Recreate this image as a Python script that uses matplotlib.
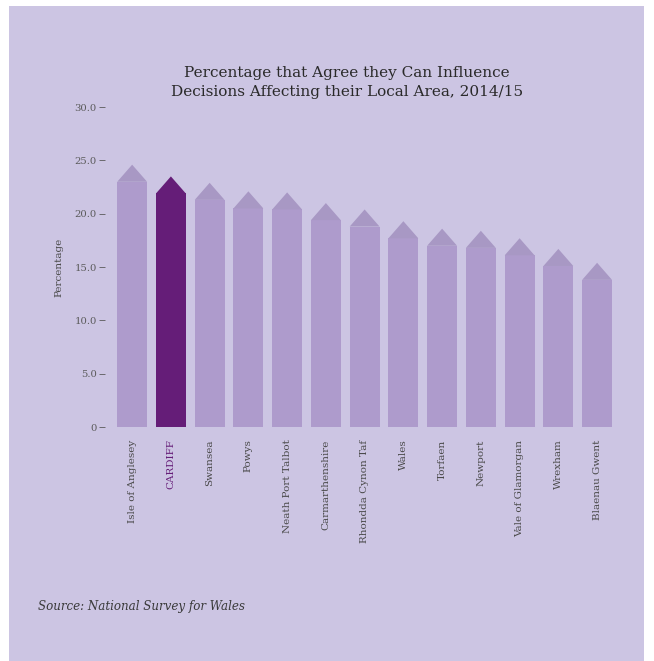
import matplotlib
matplotlib.use("Agg")
import matplotlib.pyplot as plt
from matplotlib.patches import Polygon, Rectangle

# data (value = tip of each arrow bar)
areas = ["Isle of Anglesey", "CARDIFF", "Swansea", "Powys", "Neath Port Talbot",
         "Carmarthenshire", "Rhondda Cynon Taf", "Wales", "Torfaen", "Newport",
         "Vale of Glamorgan", "Wrexham", "Blaenau Gwent"]
pct = [24.6, 23.5, 22.9, 22.1, 22.0, 21.0, 20.4, 19.3, 18.6, 18.4, 17.7, 16.7, 15.4]
highlight = "CARDIFF"
yticks = [0, 5, 10, 15, 20, 25, 30]
ytick_labels = ["0", "5.0", "10.0", "15.0", "20.0", "25.0", "30.0"]

BG = "#ccc5e3"
LIGHT = "#ae9bcc"
LIGHT_TIP = "#a898c4"
DARK = "#651d78"
TEXT = "#4a4a4a"

fig = plt.figure(figsize=(6.54, 6.61), dpi=100, facecolor="white")
fig.patches.append(Rectangle((9 / 654, 0), 635 / 654, 655 / 661,
                             transform=fig.transFigure, facecolor=BG,
                             edgecolor="none", zorder=-10))

ax = fig.add_axes([0.1606, 0.354, 0.782, 0.484])
ax.patch.set_alpha(0)

width = 0.77
head = 1.6
x = list(range(len(areas)))
for xi, name, v in zip(x, areas, pct):
    body = DARK if name == highlight else LIGHT
    tip = DARK if name == highlight else LIGHT_TIP
    ax.bar(xi, v - head, width=width, color=body, edgecolor="none")
    ax.add_patch(Polygon([(xi - width / 2, v - head), (xi + width / 2, v - head), (xi, v)],
                         closed=True, facecolor=tip, edgecolor="none"))

ax.set_xlim(-0.7, 12.5)
ax.set_ylim(0, 30)
for s in ax.spines.values():
    s.set_visible(False)

ax.set_yticks(yticks)
ax.set_yticklabels(ytick_labels, family="DejaVu Serif", fontsize=7.2, color="#5a5a5a")
ax.tick_params(axis="y", length=4, width=0.6, color="#5a5a5a", pad=2)
ax.set_xticks(x)
ax.set_xticklabels(areas, rotation=90, family="DejaVu Serif", fontsize=7.5, color=TEXT)
ax.tick_params(axis="x", length=0, pad=9)
for lbl in ax.get_xticklabels():
    if lbl.get_text() == highlight:
        lbl.set_color(DARK)

ax.set_ylabel("Percentage", family="DejaVu Serif", fontsize=7.5, color=TEXT, labelpad=8)

fig.text(0.531, 0.875, "Percentage that Agree they Can Influence\nDecisions Affecting their Local Area, 2014/15",
         ha="center", va="center", family="DejaVu Serif", fontsize=11,
         color="#2a2a2a", linespacing=1.5)
fig.text(0.058, 0.083, "Source: National Survey for Wales", ha="left", va="center",
         family="DejaVu Serif", style="italic", fontsize=8.6, color="#3a3a3a")

fig.savefig("out.png", dpi=100, facecolor=fig.get_facecolor())
